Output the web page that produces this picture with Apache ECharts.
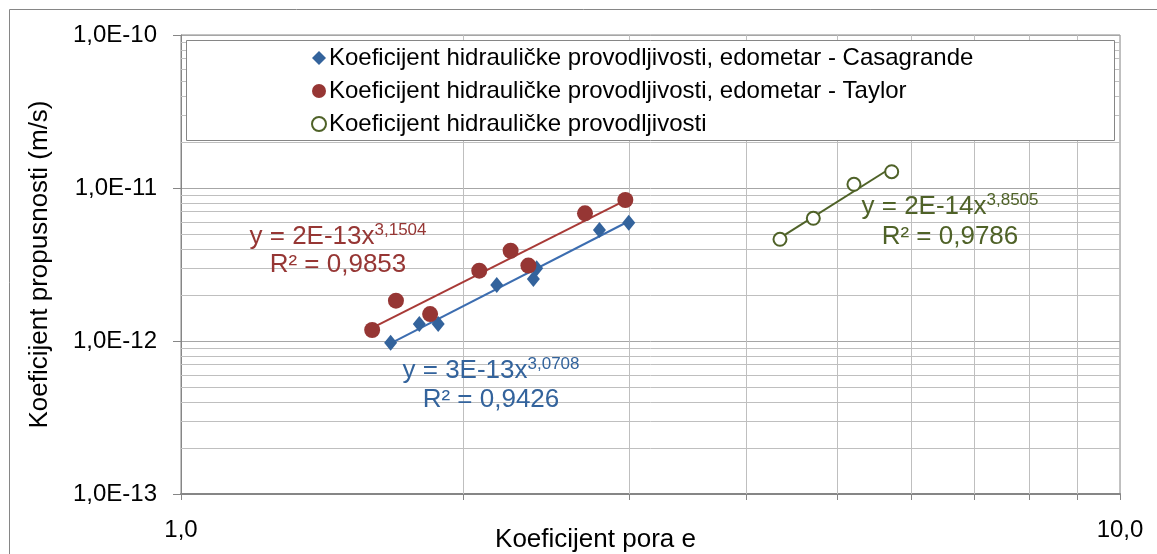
<!DOCTYPE html>
<html>
<head>
<meta charset="utf-8">
<script src="https://cdn.jsdelivr.net/npm/echarts@6/dist/echarts.min.js"></script>
<style>
html,body{margin:0;padding:0;background:#fff;}
#chart{width:1157px;height:554px;}
</style>
</head>
<body>
<div id="chart"></div>
<script>
// ---- data ----
const seriesNames = [
  'Koeficijent hidrauličke provodljivosti, edometar - Casagrande',
  'Koeficijent hidrauličke provodljivosti, edometar - Taylor',
  'Koeficijent hidrauličke provodljivosti'
];
const casagrandeE = [1.672, 1.794, 1.879, 2.169, 2.373, 2.392, 2.790, 2.998];
const casagrandeK = [0.975e-12, 1.29e-12, 1.29e-12, 2.32e-12, 2.54e-12, 2.99e-12, 5.31e-12, 5.93e-12];
const taylorE = [1.598, 1.694, 1.842, 2.078, 2.244, 2.344, 2.693, 2.973];
const taylorK = [1.18e-12, 1.835e-12, 1.50e-12, 2.88e-12, 3.89e-12, 3.11e-12, 6.83e-12, 8.35e-12];
const hydroE = [4.344, 4.714, 5.208, 5.713];
const hydroK = [4.62e-12, 6.34e-12, 1.057e-11, 1.278e-11];
const xTickLabels = ['1,0', '10,0'];
const xTickValues = [1, 2, 3, 4, 5, 6, 7, 8, 9, 10];
const xMinorTicks = [2, 3, 4, 5, 6, 7, 8, 9];
const yDecades = [1e-13, 1e-12, 1e-11];
const yMinorMultipliers = [2, 3, 4, 5, 6, 7, 8, 9];
const eqCasagrande = ['y = 3E-13x', '3,0708', 'R² = 0,9426'];
const eqTaylor = ['y = 2E-13x', '3,1504', 'R² = 0,9853'];
const eqHydro = ['y = 2E-14x', '3,8505', 'R² = 0,9786'];

const colBlue = '#33639c', colBlueLine = '#3c6db0';
const colRed = '#963634', colRedLine = '#a83a37';
const colGreen = '#4f6228';

function zip(a, b) { return a.map((v, i) => [v, b[i]]); }
function powerFit(xs, ys) {
  const lx = xs.map(Math.log), ly = ys.map(Math.log);
  const n = xs.length;
  const mx = lx.reduce((s, v) => s + v, 0) / n, my = ly.reduce((s, v) => s + v, 0) / n;
  let sxy = 0, sxx = 0;
  for (let i = 0; i < n; i++) { sxy += (lx[i] - mx) * (ly[i] - my); sxx += (lx[i] - mx) ** 2; }
  const b = sxy / sxx, a = Math.exp(my - b * mx);
  const x0 = Math.min(...xs), x1 = Math.max(...xs);
  return [[x0, a * Math.pow(x0, b)], [x1, a * Math.pow(x1, b)]];
}

const gridMarks = [];
xMinorTicks.forEach(v => gridMarks.push({ xAxis: v }));
yDecades.forEach(d => yMinorMultipliers.forEach(m => gridMarks.push({ yAxis: m * d })));

const FONT = '"Liberation Sans", Arial, sans-serif';
const chart = echarts.init(document.getElementById('chart'), null, { renderer: 'canvas' });

function eqGraphic(eq, cx, cy1, cy2, color) {
  return [
    { type: 'text', x: cx, y: cy1, z: 10, silent: true,
      style: { text: '{a|' + eq[0] + '}{s|' + eq[1] + '}', textAlign: 'center', textVerticalAlign: 'middle',
        rich: { a: { fontSize: 26, fontFamily: FONT, fill: color, color: color, verticalAlign: 'bottom', lineHeight: 28 },
                s: { fontSize: 17, fontFamily: FONT, fill: color, color: color, verticalAlign: 'top', lineHeight: 28 } } } },
    { type: 'text', x: cx, y: cy2, z: 10, silent: true,
      style: { text: eq[2], textAlign: 'center', textVerticalAlign: 'middle', fontSize: 26, fontFamily: FONT, fill: color } }
  ];
}

const option = {
  animation: false,
  backgroundColor: '#fff',
  grid: { left: 181, right: 37, top: 35, bottom: 60, show: true, borderColor: '#868686', borderWidth: 1,
          containLabel: false, outerBoundsMode: 'none' },
  xAxis: {
    type: 'log', logBase: 10, min: 1, max: 10,
    name: 'Koeficijent pora e', nameLocation: 'middle', nameGap: 33, nameMoveOverlap: false,
    nameTextStyle: { fontSize: 26, fontFamily: FONT, color: '#000', padding: [0, 110, 0, 0], verticalAlign: 'top' },
    axisLine: { show: true, lineStyle: { color: '#868686', width: 2 } },
    axisTick: { show: true, length: 6, customValues: xTickValues, lineStyle: { color: '#868686' } },
    axisLabel: { fontSize: 24, fontFamily: FONT, color: '#000', margin: 24,
      formatter: v => (Math.abs(v - 1) < 1e-9 ? xTickLabels[0] : xTickLabels[1]) },
    splitLine: { show: true, lineStyle: { color: '#bfbfbf', width: 1 } }
  },
  yAxis: {
    type: 'log', logBase: 10, min: 1e-13, max: 1e-10,
    name: 'Koeficijent propusnosti (m/s)', nameLocation: 'middle', nameGap: 128, nameMoveOverlap: false,
    nameTextStyle: { fontSize: 26, fontFamily: FONT, color: '#000' },
    axisLine: { show: true, lineStyle: { color: '#868686', width: 1 } },
    axisTick: { show: true, length: 8, lineStyle: { color: '#868686' } },
    axisLabel: { fontSize: 24, fontFamily: FONT, color: '#000', margin: 24,
      formatter: v => '1,0E' + Math.round(Math.log10(v)) },
    splitLine: { show: true, lineStyle: { color: '#a6a6a6', width: 1 } }
  },
  legend: {
    orient: 'vertical', left: 311, top: 46, itemGap: 9, itemWidth: 14, itemHeight: 14,
    padding: 0, z: 8,
    textStyle: { fontSize: 24, fontFamily: FONT, color: '#000', padding: [0, 0, 0, -2] },
    data: [
      { name: seriesNames[0], icon: 'diamond' },
      { name: seriesNames[1], icon: 'circle' },
      { name: seriesNames[2], icon: 'emptyCircle' }
    ]
  },
  graphic: [
    { type: 'rect', shape: { x: 9.5, y: 9.5, width: 1160, height: 560 }, style: { fill: 'none', stroke: '#868686', lineWidth: 1 }, z: 0, silent: true },
    { type: 'rect', shape: { x: 186.5, y: 40.5, width: 928, height: 100 }, style: { fill: '#fff', stroke: '#868686', lineWidth: 1 }, z: 7, silent: true },
    ...eqGraphic(eqTaylor, 338, 236, 265, colRed),
    ...eqGraphic(eqCasagrande, 491, 370, 400, colBlue),
    ...eqGraphic(eqHydro, 950, 206, 237, colGreen)
  ],
  series: [
    { name: '_grid', type: 'line', data: [], z: 1, silent: true,
      markLine: { silent: true, symbol: 'none', precision: 20, z: 1, label: { show: false }, animation: false,
        lineStyle: { color: '#bfbfbf', width: 1, type: 'solid' }, data: gridMarks } },
    { name: 'trendC', type: 'line', data: powerFit(casagrandeE, casagrandeK), showSymbol: false, symbol: 'none',
      lineStyle: { color: colBlueLine, width: 2 }, z: 3, silent: true },
    { name: 'trendT', type: 'line', data: powerFit(taylorE, taylorK), showSymbol: false, symbol: 'none',
      lineStyle: { color: colRedLine, width: 2 }, z: 3, silent: true },
    { name: 'trendH', type: 'line', data: powerFit(hydroE, hydroK), showSymbol: false, symbol: 'none',
      lineStyle: { color: colGreen, width: 2 }, z: 3, silent: true },
    { name: seriesNames[0], type: 'scatter', data: zip(casagrandeE, casagrandeK), symbol: 'diamond', symbolSize: [13, 16],
      itemStyle: { color: colBlue, opacity: 1 }, z: 4 },
    { name: seriesNames[1], type: 'scatter', data: zip(taylorE, taylorK), symbol: 'circle', symbolSize: 16,
      itemStyle: { color: colRed, opacity: 1 }, z: 4 },
    { name: seriesNames[2], type: 'scatter', data: zip(hydroE, hydroK), symbol: 'emptyCircle', symbolSize: 13,
      itemStyle: { color: colGreen, borderColor: colGreen, borderWidth: 2, opacity: 1 }, z: 4 }
  ]
};
chart.setOption(option);
</script>
</body>
</html>
